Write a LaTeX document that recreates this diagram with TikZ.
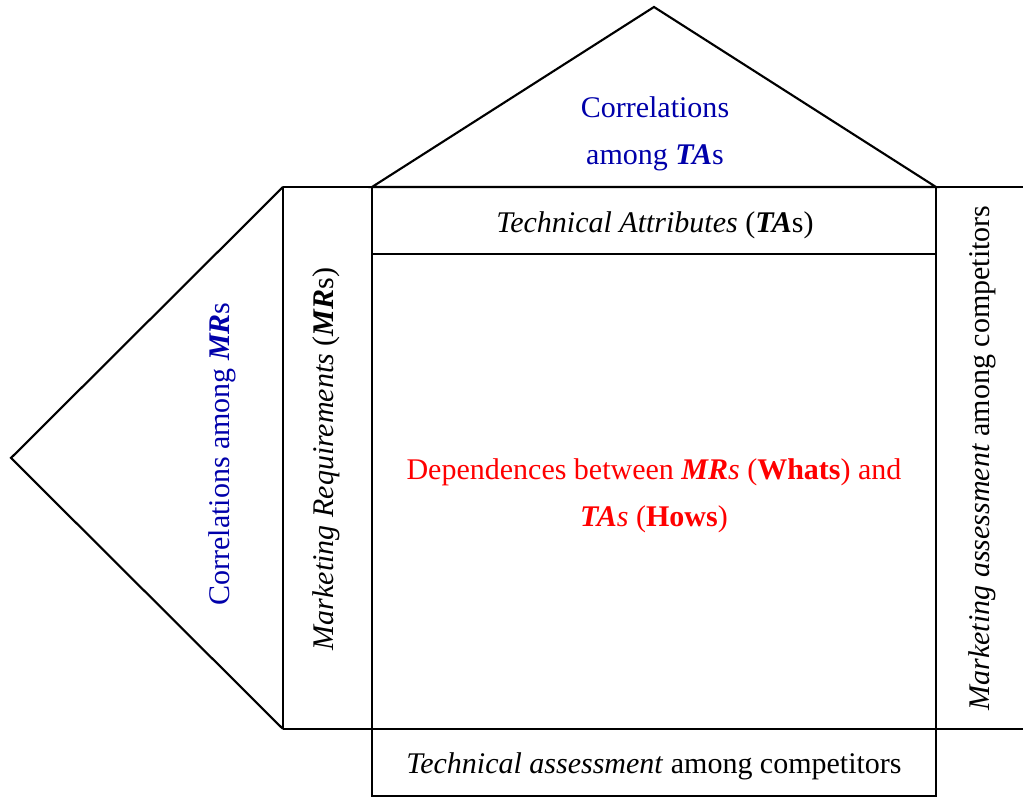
\documentclass[tikz,border=0pt]{standalone}
\usepackage{fontspec}
\setmainfont{Liberation Serif}
\definecolor{corrblue}{RGB}{0,0,170}
\definecolor{deppred}{RGB}{255,0,0}
\begin{document}
\begin{tikzpicture}[x=0.4pt,y=-0.4pt,
  frame/.style={line width=0.85pt, line join=miter},
  lbl/.style={inner sep=0pt, align=center, font=\fontsize{12}{18.8}\selectfont},
  vlbl/.style={lbl, rotate=90}]
\useasboundingbox (0,0) rectangle (1023,797);
% named corner coordinates
\coordinate (roofapex) at (654,7);
\coordinate (triapex) at (11,458);
\coordinate (tl) at (372,187);
\coordinate (tr) at (936,187);
\coordinate (bl) at (372,729);
\coordinate (br) at (936,729);
\coordinate (mrtl) at (283,187);
\coordinate (mrbl) at (283,729);
\coordinate (tasep l) at (372,254);
\coordinate (tasep r) at (936,254);
\coordinate (botl) at (372,796);
\coordinate (botr) at (936,796);
\coordinate (rtop) at (1023,187);
\coordinate (rbot) at (1023,729);
% roof
\draw[frame] (tl) -- (roofapex) -- (tr) -- cycle;
% main box
\draw[frame] (tl) rectangle (br);
\draw[frame] (tasep l) -- (tasep r);
% MR column
\draw[frame] (mrtl) -- (tl);
\draw[frame] (mrbl) -- (bl);
\draw[frame] (mrtl) -- (mrbl);
% left triangle
\draw[frame] (mrtl) -- (triapex) -- (mrbl);
% bottom row
\draw[frame] (bl) -- (botl) -- (botr) -- (br);
% right column
\draw[frame] (tr) -- (rtop);
\draw[frame] (br) -- (rbot);
% texts
\node[lbl, text=corrblue] (roofT) at (655,134) {Correlations\\among \textbf{\textit{TA}}s};
\node[lbl] (taT) at (655,225) {\textit{Technical Attributes} (\textbf{\textit{TA}}s)};
\node[lbl, text=deppred] (depT) at (654,496) {Dependences between \textbf{\textit{MR}}\textit{s} (\textbf{Whats}) and\\\textbf{\textit{TA}}\textit{s} (\textbf{Hows})};
\node[lbl] (botT) at (654,766) {\textit{Technical assessment} among competitors};
\node[vlbl, text=corrblue] (mrcorrT) at (222,454) {Correlations among \textbf{\textit{MR}}s};
\node[vlbl] (mrT) at (326,459) {\textit{Marketing Requirements} (\textbf{\textit{MR}}s)};
\node[vlbl] (rightT) at (982,458) {\textit{Marketing assessment} among competitors};
\end{tikzpicture}
\end{document}
